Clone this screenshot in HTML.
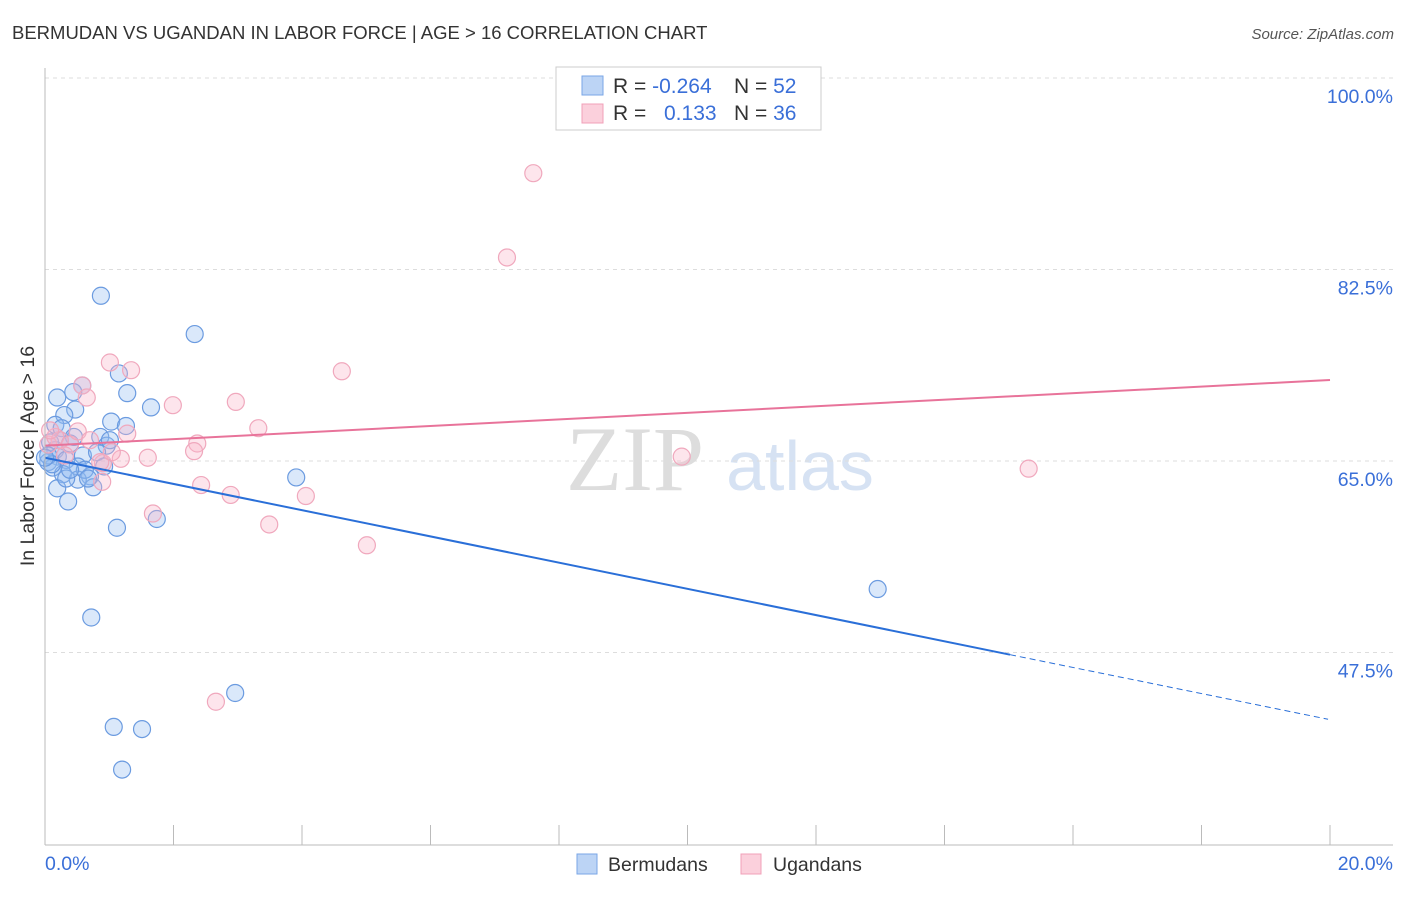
<!DOCTYPE html>
<html><head><meta charset="utf-8"><style>
body{margin:0;background:#fff;font-family:"Liberation Sans",sans-serif}
</style></head><body>
<svg width="1406" height="892" xmlns="http://www.w3.org/2000/svg" id="svg">
<text x="12" y="39" font-size="18.5" fill="#333">BERMUDAN VS UGANDAN IN LABOR FORCE | AGE &gt; 16 CORRELATION CHART</text>
<text x="1394" y="39" font-size="15" fill="#555" font-style="italic" text-anchor="end">Source: ZipAtlas.com</text>
<text x="635" y="490" font-size="92" fill="#ddd" font-family="Liberation Serif" text-anchor="middle">ZIP</text>
<text x="800" y="490" font-size="70" fill="#d6e2f3" text-anchor="middle">atlas</text>
<text transform="translate(34,456) rotate(-90)" font-size="19.5" fill="#333" text-anchor="middle">In Labor Force | Age &gt; 16</text>
<g id="grid"></g><g id="pts"></g><g id="trend"></g>
<line x1="45" y1="68" x2="45" y2="845" stroke="#bbb"/>
<line x1="45" y1="845" x2="1393" y2="845" stroke="#bbb"/>
<text x="45" y="870" font-size="19.5" fill="#3a6fd8">0.0%</text>
<text x="1393" y="870" font-size="19.5" fill="#3a6fd8" text-anchor="end">20.0%</text>
<g>
<rect x="556" y="67" width="265" height="63" fill="#fff" stroke="#ccc"/>
<rect x="582" y="76" width="21" height="19" fill="#bcd4f5" stroke="#7aa6e6"/>
<rect x="582" y="104" width="21" height="19" fill="#fbd0dc" stroke="#f0a0b8"/>
<text x="613" y="93" font-size="21" fill="#333">R = <tspan fill="#3a6fd8">-0.264</tspan></text>
<text x="734" y="93" font-size="21" fill="#333">N = <tspan fill="#3a6fd8">52</tspan></text>
<text x="613" y="120" font-size="21" fill="#333">R = <tspan fill="#3a6fd8" x="664">0.133</tspan></text>
<text x="734" y="120" font-size="21" fill="#333">N = <tspan fill="#3a6fd8">36</tspan></text>
</g>
<g>
<rect x="577" y="854" width="20" height="20" fill="#bcd4f5" stroke="#7aa6e6"/>
<text x="608" y="871" font-size="19.5" fill="#333">Bermudans</text>
<rect x="741" y="854" width="20" height="20" fill="#fbd0dc" stroke="#f0a0b8"/>
<text x="773" y="871" font-size="19.5" fill="#333">Ugandans</text>
</g>
</svg>
<script>
const yTicks=[100,82.5,65,47.5];
const yTickLabels=["100.0%","82.5%","65.0%","47.5%"];
const bermX=[0.87,2.33,1.15,1.28,0.58,0.19,0.44,1.65,0.47,0.30,1.03,1.26,0.16,0.26,0.86,0.96,0.08,0.16,0.39,0.59,0.81,0.20,0.33,0.05,0.51,0.92,0.12,0.28,0.70,0.51,0.75,0.19,0.36,3.91,1.74,1.12,0.72,2.96,1.07,1.51,1.20,12.96,0.05,0.11,0.62,0.45,0.23,1.01,0.67,0.33,0.39,0.0];
const bermY=[80.1,76.6,73.0,71.2,71.9,70.8,71.3,69.9,69.7,69.2,68.6,68.2,68.3,68.0,67.2,66.4,66.7,66.0,66.6,65.5,65.8,65.4,65.1,64.9,64.5,64.5,64.4,63.8,63.6,63.3,62.6,62.5,61.3,63.5,59.7,58.9,50.7,43.8,40.7,40.5,36.8,53.3,65.5,64.7,64.2,67.2,66.9,66.9,63.4,63.4,64.2,65.3];
const ugX=[7.60,7.19,1.01,1.34,4.62,0.58,0.65,1.99,2.97,3.32,1.28,2.37,2.32,1.60,1.18,0.90,9.91,15.31,2.43,2.89,4.06,1.68,3.49,5.01,2.66,0.23,0.05,0.16,0.39,0.51,0.86,1.04,0.31,0.08,0.70,0.89];
const ugY=[91.3,83.6,74.0,73.3,73.2,71.9,70.8,70.1,70.4,68.0,67.5,66.6,65.9,65.3,65.2,64.8,65.4,64.3,62.8,61.9,61.8,60.2,59.2,57.3,43.0,66.9,66.5,67.2,66.5,67.7,64.9,65.8,65.5,67.8,66.9,63.1];
const bermTrend=[65.3,47.3,41.4]; // at x=0, 15.02, 19.97
const ugTrend=[66.4,72.4]; // at x=0, 20
const NS="http://www.w3.org/2000/svg";
const sx=v=>45+v/20*1285;
const sy=v=>78+(100-v)/17.5*191.5;
function mk(t,a,p){const e=document.createElementNS(NS,t);for(const k in a)e.setAttribute(k,a[k]);document.getElementById(p).appendChild(e);return e;}
yTicks.forEach((t,i)=>{
 const l=mk('line',{x1:45,x2:1393,y1:sy(t),y2:sy(t),stroke:'#ddd','stroke-dasharray':'4,4'},'grid');
 
 
 const tx=mk('text',{x:1393,y:sy(t)+25,'font-size':19.5,fill:'#3a6fd8','text-anchor':'end'},'grid');
 tx.textContent=yTickLabels[i];
 
 
});
for(let i=0;i<=10;i++){
 const x=45+i*128.5;
 const l=mk('line',{x1:x,x2:x,y1:825,y2:845,stroke:'#bbb'},'grid');
 
 
}
bermX.forEach((x,i)=>{
 const c=mk('circle',{cx:sx(x),cy:sy(bermY[i]),r:8.5,fill:'rgba(150,190,240,0.35)',stroke:'#6b9be0','stroke-width':1.2},'pts');
 
 
});
ugX.forEach((x,i)=>{
 const c=mk('circle',{cx:sx(x),cy:sy(ugY[i]),r:8.5,fill:'rgba(248,180,200,0.35)',stroke:'#f0a8bd','stroke-width':1.2},'pts');
 
 
});
let l=mk('line',{x1:sx(0),y1:sy(bermTrend[0]),x2:sx(15.02),y2:sy(bermTrend[1]),stroke:'#2a6fd8','stroke-width':2},'trend');


l=mk('line',{x1:sx(15.02),y1:sy(bermTrend[1]),x2:sx(19.97),y2:sy(bermTrend[2]),stroke:'#2a6fd8','stroke-width':1,'stroke-dasharray':'6,4'},'trend');


l=mk('line',{x1:sx(0),y1:sy(ugTrend[0]),x2:sx(20),y2:sy(ugTrend[1]),stroke:'#e8739a','stroke-width':2},'trend');


</script>
</body></html>
